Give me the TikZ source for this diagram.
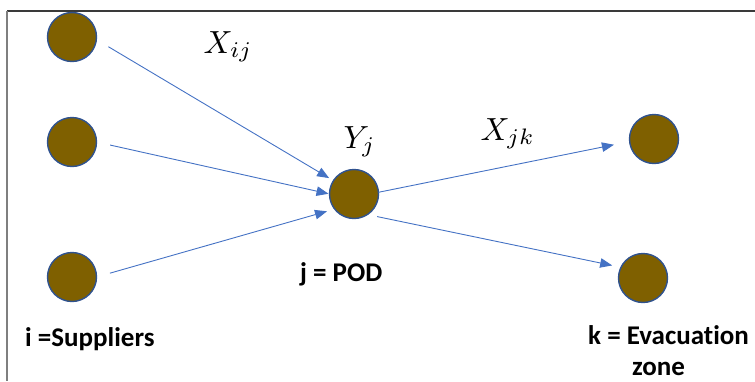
\documentclass[tikz,border=0pt]{standalone}
\usepackage{fontspec}
\newfontfamily\lblfont[RawFeature=-liga]{Carlito}
\usetikzlibrary{arrows.meta}
\definecolor{nodefill}{HTML}{7F6000}
\definecolor{nodeline}{HTML}{2F528F}
\definecolor{arrblue}{HTML}{4472C4}
\definecolor{frametop}{HTML}{3A3A3A}
\definecolor{frameleft}{HTML}{7F7F7F}
\tikzset{
  site/.style={circle, draw=nodeline, fill=nodefill, line width=1.4pt, minimum size=49pt, inner sep=0pt, outer sep=0pt},
  flow/.style={draw=arrblue, line width=0.9pt, -{Triangle[length=12pt,width=9.5pt]}},
  mathlbl/.style={anchor=base west, inner sep=0pt, scale=3.2},
  txtlbl/.style={anchor=base west, inner sep=0pt, font=\lblfont\bfseries\fontsize{27}{32}\selectfont}
}
\begin{document}
\begin{tikzpicture}[x=1pt,y=-1pt]
\useasboundingbox (0,0) rectangle (755,381);
\draw[frametop, line width=1.2pt] (7,11) -- (755,11);
\draw[frameleft, line width=2pt] (7,11) -- (7,381);

\node[site] (s1) at (72,37) {};
\node[site] (s2) at (72,142) {};
\node[site] (s3) at (72,277) {};
\node[site] (p) at (354,194) {};
\node[site] (r1) at (654,139) {};
\node[site] (r2) at (643,278) {};

\draw[flow, shorten <=14pt, shorten >=5pt] (s1.-6) -- (p.147);
\draw[flow, shorten <=14pt, shorten >=1pt] (s2.0) -- (p.180);
\draw[flow, shorten <=14pt, shorten >=8pt] (s3.0) -- (p.-142);
\draw[flow, shorten >=16pt] (p.4) -- (r1.186);
\draw[flow, shorten <=10pt, shorten >=9pt] (p.-57) -- (r2.154);

\node[mathlbl] (xij) at (203,53) {$X_{ij}$};
\node[mathlbl] (yj) at (343,148) {$Y_j$};
\node[mathlbl] (xjk) at (480,140) {$X_{jk}$};

\node[txtlbl] (ti) at (25,346) {i =Suppliers};
\node[txtlbl] (tj) at (300,281) {j = POD};
\node[txtlbl] (tk) at (588,344) {k = Evacuation};
\node[txtlbl] (tz) at (632,375) {zone};
\end{tikzpicture}
\end{document}
